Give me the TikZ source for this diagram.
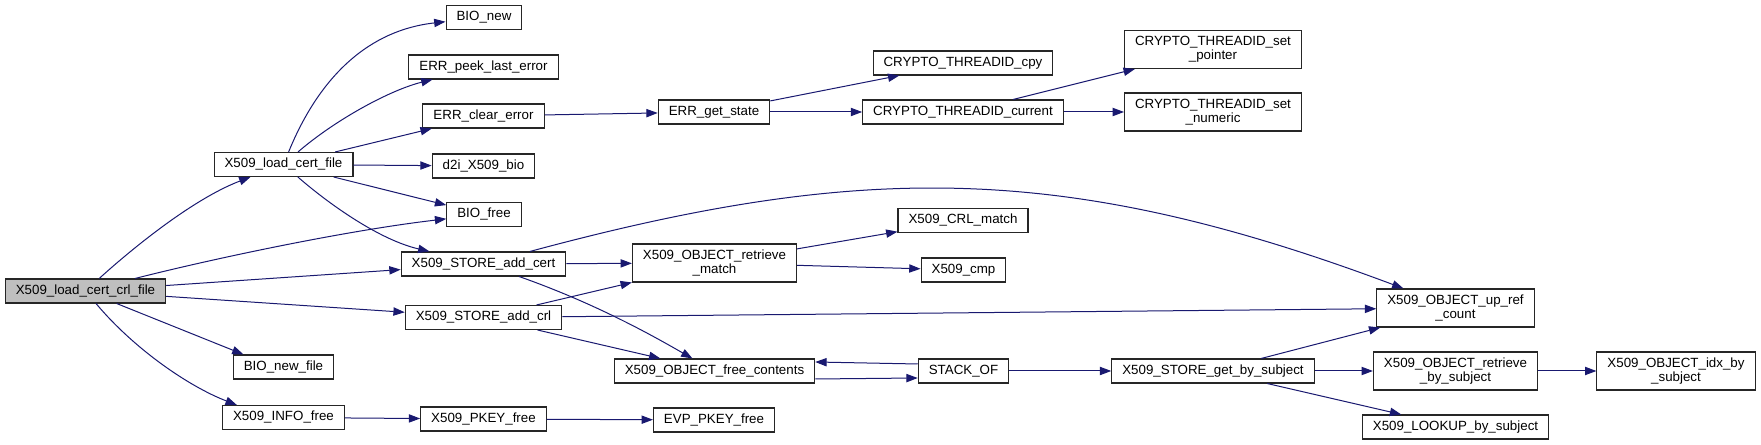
\documentclass[tikz,border=0pt]{standalone}
\usepackage{fontspec}
\setmainfont{Liberation Sans}
\usetikzlibrary{arrows.meta}
\definecolor{midnightblue}{RGB}{25,25,112}
\definecolor{nodegray}{RGB}{191,191,191}
\begin{document}
\begin{tikzpicture}[x=0.75pt,y=0.75pt,every node/.style={font=\fontsize{10}{10.5}\selectfont},
  fn/.style={draw=black!85,fill=white,line width=0.8pt,inner xsep=7.9pt,inner ysep=4.2pt,minimum height=18pt,align=center},
  call/.style={->,draw=midnightblue,line width=0.75pt},>={Triangle[length=8.5pt,width=6.2pt]}]
\useasboundingbox[fill=white] (0,0) rectangle (1761,445);
\node[fn,fill=nodegray] (crlfile) at (85.5,154) {X509\_load\_cert\_crl\_file};
\node[fn] (loadcert) at (283.5,280.5) {X509\_load\_cert\_file}; \node[fn] (bionewfile) at (283.5,78) {BIO\_new\_file}; \node[fn] (infofree) at (283.5,27.5) {X509\_INFO\_free};
\node[fn] (bionew) at (484,427.5) {BIO\_new}; \node[fn] (peekerr) at (483.5,378) {ERR\_peek\_last\_error}; \node[fn] (clearerr) at (483.5,329) {ERR\_clear\_error};
\node[fn] (d2ibio) at (483.5,279) {d2i\_X509\_bio}; \node[fn] (biofree) at (484,230.5) {BIO\_free}; \node[fn] (addcert) at (483.5,181) {X509\_STORE\_add\_cert};
\node[fn] (addcrl) at (483.5,127.5) {X509\_STORE\_add\_crl}; \node[fn] (pkeyfree) at (483.5,26) {X509\_PKEY\_free};
\node[fn] (getstate) at (714,333) {ERR\_get\_state}; \node[fn,minimum height=28.5pt] (retrmatch) at (714.5,182) {X509\_OBJECT\_retrieve\\\_match};
\node[fn] (freecont) at (714.5,74) {X509\_OBJECT\_free\_contents}; \node[fn] (evpfree) at (714,25) {EVP\_PKEY\_free};
\node[fn] (tidcpy) at (963,382) {CRYPTO\_THREADID\_cpy}; \node[fn] (tidcur) at (963,333) {CRYPTO\_THREADID\_current};
\node[fn] (crlmatch) at (963,224.5) {X509\_CRL\_match}; \node[fn] (cmp) at (963.5,175) {X509\_cmp}; \node[fn] (stackof) at (963.5,74) {STACK\_OF};
\node[fn,minimum height=28.5pt] (setptr) at (1213,395.5) {CRYPTO\_THREADID\_set\\\_pointer}; \node[fn,minimum height=28.5pt] (setnum) at (1213,333) {CRYPTO\_THREADID\_set\\\_numeric};
\node[fn] (getbysubj) at (1213,74) {X509\_STORE\_get\_by\_subject};
\node[fn,minimum height=28.5pt] (upref) at (1455.5,137) {X509\_OBJECT\_up\_ref\\\_count}; \node[fn,minimum height=28.5pt] (retrbysubj) at (1455.5,74) {X509\_OBJECT\_retrieve\\\_by\_subject};
\node[fn] (lookup) at (1455.5,18) {X509\_LOOKUP\_by\_subject}; \node[fn,minimum height=28.5pt] (idxbysubj) at (1676,74) {X509\_OBJECT\_idx\_by\\\_subject};
\draw[call] (crlfile) .. controls (125,190) and (190,245) .. (loadcert); \draw[call] (crlfile) .. controls (220,188) and (350,215) .. (biofree);
\draw[call] (crlfile) -- (addcert); \draw[call] (crlfile) -- (addcrl); \draw[call] (crlfile) -- ([xshift=-30pt]bionewfile.north);
\draw[call] (crlfile) .. controls (135,95) and (190,58) .. ([xshift=-35pt]infofree.north);
\draw[call] (loadcert) .. controls (320,370) and (370,415) .. (bionew); \draw[call] (loadcert) .. controls (335,325) and (390,355) .. (peekerr);
\draw[call] (loadcert) -- (clearerr); \draw[call] (loadcert) -- (d2ibio); \draw[call] (loadcert) -- (biofree);
\draw[call] (loadcert) .. controls (330,240) and (380,205) .. (addcert);
\draw[call] (infofree) -- (pkeyfree); \draw[call] (pkeyfree) -- (evpfree);
\draw[call] (clearerr) -- (getstate); \draw[call] (getstate) -- (tidcpy); \draw[call] (getstate) -- (tidcur);
\draw[call] (tidcur) -- (setptr); \draw[call] (tidcur) -- (setnum);
\draw[call] (addcert) .. controls (862,283) and (1066,283) .. (upref); \draw[call] (addcert) -- (retrmatch);
\draw[call] (addcert) .. controls (600,140) and (660,105) .. (freecont);
\draw[call] (addcrl) -- (retrmatch); \draw[call] (addcrl) -- (freecont); \draw[call] (addcrl) -- (upref);
\draw[call] (retrmatch) -- (crlmatch); \draw[call] (retrmatch) -- (cmp);
\draw[call] ([yshift=5.25pt]stackof.west) -- ([yshift=6.75pt]freecont.east); \draw[call] ([yshift=-6pt]freecont.east) -- ([yshift=-5.25pt]stackof.west);
\draw[call] (stackof) -- (getbysubj); \draw[call] (getbysubj) -- (upref); \draw[call] (getbysubj) -- (retrbysubj); \draw[call] (getbysubj) -- (lookup);
\draw[call] (retrbysubj) -- (idxbysubj);
\end{tikzpicture}
\end{document}
